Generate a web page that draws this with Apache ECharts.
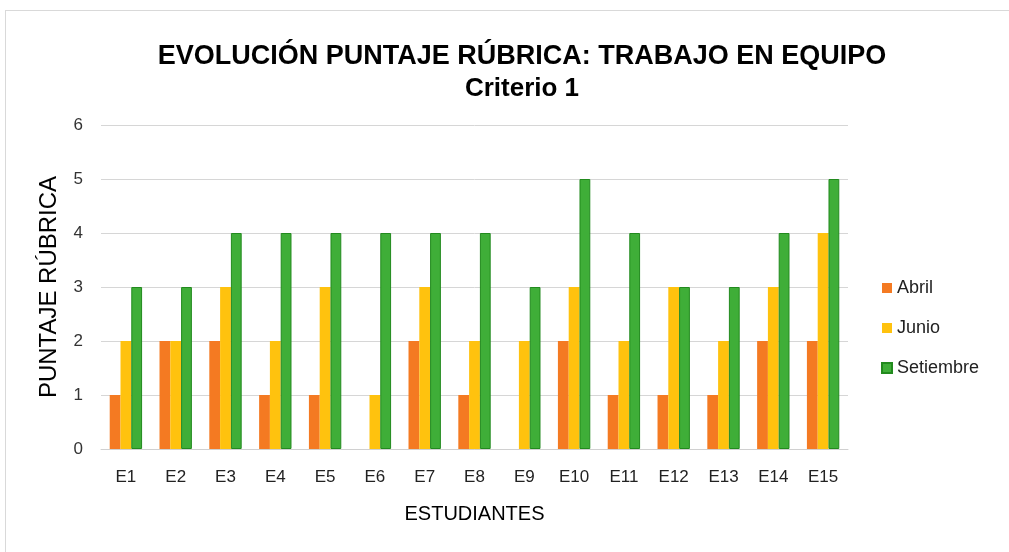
<!DOCTYPE html>
<html>
<head>
<meta charset="utf-8">
<script src="https://cdn.jsdelivr.net/npm/echarts@6/dist/echarts.min.js"></script>
<style>
  html, body { margin: 0; padding: 0; background: #fff; }
  #frame { position: absolute; left: 5px; top: 10px; width: 1020px; height: 560px; border: 1px solid #d9d9d9; box-sizing: border-box; }
  #chart { position: absolute; left: 0; top: 0; width: 1009px; height: 552px; }
</style>
</head>
<body>
<div id="frame"></div>
<div id="chart"></div>
<script>
// Rubric scores per student, three evaluation months
const students = ['E1','E2','E3','E4','E5','E6','E7','E8','E9','E10','E11','E12','E13','E14','E15'];
const abril     = [1, 2, 2, 1, 1, 0, 2, 1, 0, 2, 1, 1, 1, 2, 2];
const junio     = [2, 2, 3, 2, 3, 1, 3, 2, 2, 3, 2, 3, 2, 3, 4];
const setiembre = [3, 3, 4, 4, 4, 4, 4, 4, 3, 5, 4, 3, 3, 4, 5];
const yTicks = [0, 1, 2, 3, 4, 5, 6];

const font = 'Liberation Sans, Arial, sans-serif';
const chart = echarts.init(document.getElementById('chart'));

function bar(name, data, color, border) {
  return {
    name: name,
    type: 'bar',
    data: data,
    barGap: '0%',
    barCategoryGap: '35%',
    itemStyle: { color: color, borderColor: border || color, borderWidth: border ? 1 : 0 },
    emphasis: { disabled: true }
  };
}

chart.setOption({
  animation: false,
  title: {
    text: 'EVOLUCIÓN PUNTAJE RÚBRICA: TRABAJO EN EQUIPO',
    subtext: 'Criterio 1',
    left: 517,
    textAlign: 'center',
    top: 38,
    itemGap: 6,
    textStyle: { fontFamily: font, fontSize: 27, fontWeight: 'bold', color: '#000' },
    subtextStyle: { fontFamily: font, fontSize: 26, fontWeight: 'bold', color: '#000' }
  },
  legend: {
    orient: 'vertical',
    left: 876,
    top: 274,
    itemWidth: 10,
    itemHeight: 10,
    itemGap: 22,
    icon: 'rect',
    textStyle: { fontFamily: font, fontSize: 18, color: '#222' },
    data: ['Abril', 'Junio', 'Setiembre']
  },
  grid: { left: 101, right: 161, top: 125, bottom: 103 },
  xAxis: {
    type: 'category',
    data: students,
    name: 'ESTUDIANTES',
    nameLocation: 'middle',
    nameGap: 55,
    nameTextStyle: { fontFamily: font, fontSize: 20, color: '#000' },
    axisLine: { lineStyle: { color: '#d0d0d0' } },
    axisTick: { show: false },
    axisLabel: { fontFamily: font, fontSize: 17, color: '#222', margin: 20 }
  },
  yAxis: {
    type: 'value',
    min: yTicks[0],
    max: yTicks[yTicks.length - 1],
    interval: 1,
    name: 'PUNTAJE RÚBRICA',
    nameLocation: 'middle',
    nameGap: 40,
    nameTextStyle: { fontFamily: font, fontSize: 24, color: '#000' },
    axisLine: { show: false },
    axisTick: { show: false },
    axisLabel: { fontFamily: font, fontSize: 17, color: '#333', margin: 18 },
    splitLine: { lineStyle: { color: '#d6d6d6', width: 1 } }
  },
  series: [
    bar('Abril', abril, '#f47a22', null),
    bar('Junio', junio, '#ffc20e', null),
    bar('Setiembre', setiembre, '#3fae38', '#228a1e')
  ]
});
</script>
</body>
</html>
